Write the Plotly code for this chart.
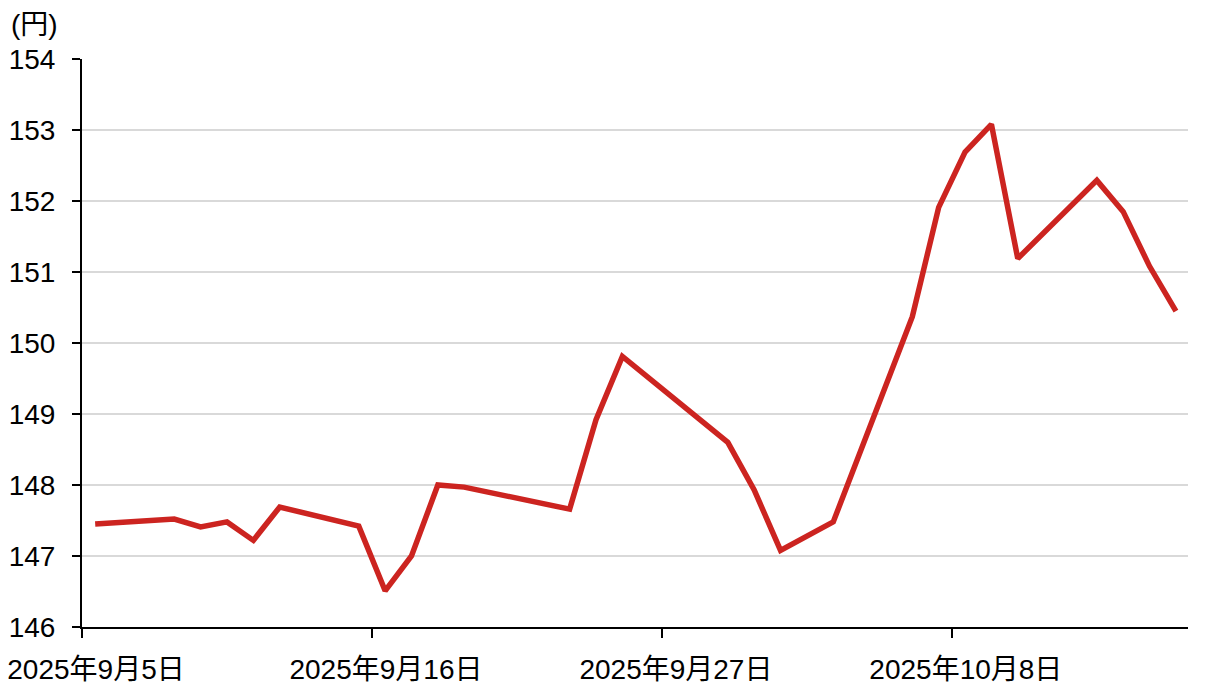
import pandas as pd
import plotly.graph_objects as go

dates = ["2025-09-05", "2025-09-08", "2025-09-09", "2025-09-10", "2025-09-11",
         "2025-09-12", "2025-09-15", "2025-09-16", "2025-09-17", "2025-09-18",
         "2025-09-19", "2025-09-23", "2025-09-24", "2025-09-25", "2025-09-29",
         "2025-09-30", "2025-10-01", "2025-10-03", "2025-10-06", "2025-10-07",
         "2025-10-08", "2025-10-09", "2025-10-10", "2025-10-13", "2025-10-14",
         "2025-10-15", "2025-10-16"]
values = [147.45, 147.52, 147.41, 147.48, 147.22,
          147.69, 147.42, 146.51, 147.00, 148.00,
          147.97, 147.66, 148.92, 149.81, 148.60,
          147.93, 147.08, 147.48, 150.37, 151.91,
          152.69, 153.08, 151.19, 152.29, 151.85,
          151.08, 150.45]

tick_dates = ["2025-09-05", "2025-09-16", "2025-09-27", "2025-10-08"]
tick_labels = ["2025年9月5日", "2025年9月16日", "2025年9月27日", "2025年10月8日"]
y_ticks = [146, 147, 148, 149, 150, 151, 152, 153, 154]
unit_label = "(円)"

x = pd.to_datetime(dates) + pd.Timedelta(hours=12)

FONT = "Liberation Sans, Arial, Noto Sans CJK JP, sans-serif"
FS = 28

# page body has an 8px default margin, so the figure is offset by (8, 8)
W, H = 1201, 679
ML, MR, MT, MB = 74, 21, 51, 60
PW, PH = W - ML - MR, H - MT - MB

fig = go.Figure()
fig.add_trace(go.Scatter(
    x=x, y=values, mode="lines",
    line=dict(color="#cc2420", width=5.5),
    showlegend=False, hoverinfo="x+y",
))

fig.update_layout(
    width=W, height=H,
    margin=dict(l=ML, r=MR, t=MT, b=MB, autoexpand=False),
    paper_bgcolor="white", plot_bgcolor="white",
    font=dict(family=FONT, size=FS, color="black"),
    xaxis=dict(
        type="date",
        range=["2025-09-05", "2025-10-16 23:00"],
        tickmode="array",
        tickvals=pd.to_datetime(tick_dates),
        ticktext=tick_labels,
        ticks="outside", ticklen=9, tickwidth=2, tickcolor="black",
        showline=True, linecolor="black", linewidth=2,
        showgrid=False, zeroline=False, automargin=False,
        ticklabelshift=14, ticklabelstandoff=7,
        ticklabeloverflow="allow",
        tickfont=dict(family=FONT, size=FS, color="black"),
    ),
    yaxis=dict(
        range=[146, 154],
        tickmode="array", tickvals=y_ticks,
        ticks="outside", ticklen=8, tickwidth=2, tickcolor="black",
        showline=True, linecolor="black", linewidth=2,
        showgrid=True, gridcolor="#d9d9d9", gridwidth=2,
        zeroline=False, automargin=False,
        ticklabelstandoff=11,
        ticklabeloverflow="allow",
        tickfont=dict(family=FONT, size=FS, color="black"),
    ),
    annotations=[dict(
        text=unit_label, xref="paper", yref="paper",
        x=(2 - ML) / PW, y=1 + MT / PH, xanchor="left", yanchor="top",
        borderpad=0,
        showarrow=False, font=dict(family=FONT, size=FS, color="black"),
    )],
)

fig.write_html("out.html")
